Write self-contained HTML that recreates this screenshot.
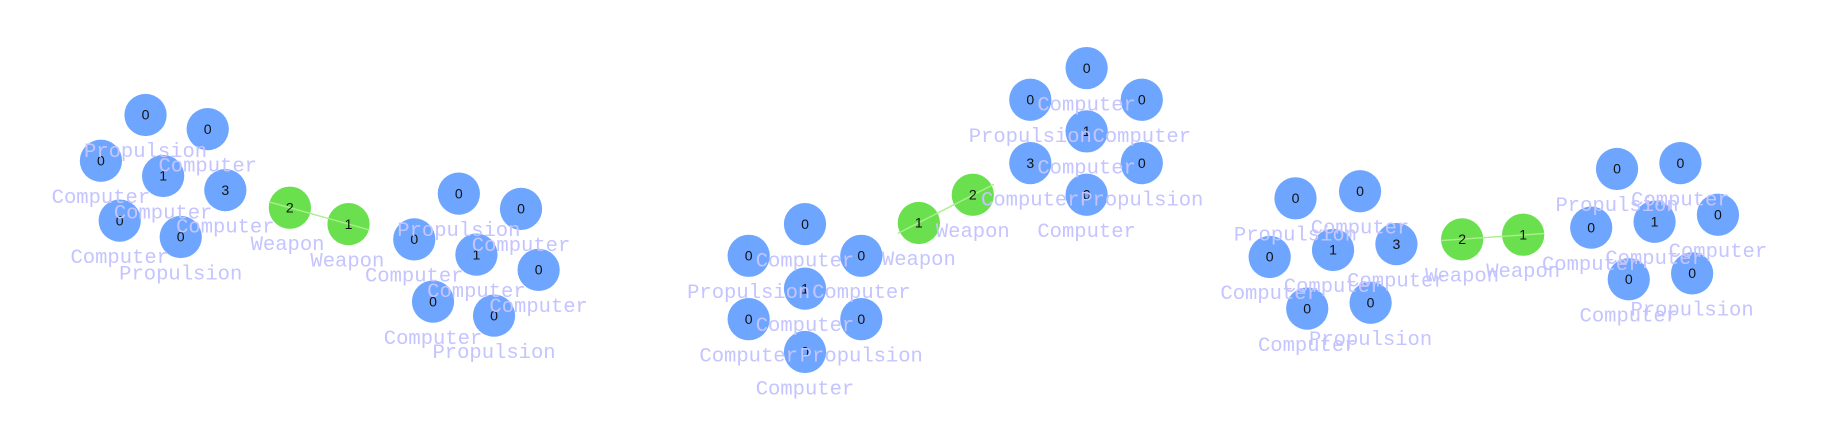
<!DOCTYPE html>
<html><head><meta charset="utf-8"><style>
html,body{margin:0;padding:0;background:#fff;width:1840px;height:433px;overflow:hidden}
svg{display:block}
.b{fill:#6ea6ff}
.g{fill:#6ae04e}
.n{font-family:"Liberation Sans",sans-serif;font-size:12px;fill:#111;text-anchor:middle}
.l{font-family:"Liberation Mono",monospace;font-size:17.5px;fill:#c4c4ff;text-anchor:middle}
</style></head><body>
<svg width="1840" height="433" viewBox="0 0 1568 369" xmlns="http://www.w3.org/2000/svg">
<g>
<circle class="b" cx="124" cy="98" r="18"/><circle class="b" cx="177" cy="110" r="18"/><circle class="b" cx="86" cy="137" r="18"/><circle class="b" cx="139" cy="150" r="18"/><circle class="b" cx="192" cy="162" r="18"/><circle class="b" cx="102" cy="188" r="18"/><circle class="b" cx="154" cy="202" r="18"/>
<circle class="g" cx="247" cy="177" r="18"/><circle class="g" cx="297" cy="191" r="18"/>
<circle class="b" cx="391" cy="165" r="18"/><circle class="b" cx="444" cy="178" r="18"/><circle class="b" cx="353" cy="204" r="18"/><circle class="b" cx="406" cy="217" r="18"/><circle class="b" cx="459" cy="230" r="18"/><circle class="b" cx="369" cy="257" r="18"/><circle class="b" cx="421" cy="269" r="18"/>
<circle class="b" cx="686" cy="191" r="18"/><circle class="b" cx="638" cy="218" r="18"/><circle class="b" cx="734" cy="218" r="18"/><circle class="b" cx="686" cy="246" r="18"/><circle class="b" cx="638" cy="272" r="18"/><circle class="b" cx="734" cy="272" r="18"/><circle class="b" cx="686" cy="300" r="18"/>
<circle class="g" cx="783" cy="190" r="18"/><circle class="g" cx="829" cy="166" r="18"/>
<circle class="b" cx="926" cy="58" r="18"/><circle class="b" cx="878" cy="85" r="18"/><circle class="b" cx="973" cy="85" r="18"/><circle class="b" cx="926" cy="112" r="18"/><circle class="b" cx="878" cy="139" r="18"/><circle class="b" cx="973" cy="139" r="18"/><circle class="b" cx="926" cy="166" r="18"/>
<circle class="b" cx="1104" cy="169" r="18"/><circle class="b" cx="1159" cy="163" r="18"/><circle class="b" cx="1082" cy="219" r="18"/><circle class="b" cx="1136" cy="213" r="18"/><circle class="b" cx="1190" cy="208" r="18"/><circle class="b" cx="1114" cy="263" r="18"/><circle class="b" cx="1168" cy="258" r="18"/>
<circle class="g" cx="1246" cy="204" r="18"/><circle class="g" cx="1298" cy="200" r="18"/>
<circle class="b" cx="1378" cy="144" r="18"/><circle class="b" cx="1432" cy="139" r="18"/><circle class="b" cx="1356" cy="194" r="18"/><circle class="b" cx="1410" cy="189" r="18"/><circle class="b" cx="1464" cy="183" r="18"/><circle class="b" cx="1388" cy="238" r="18"/><circle class="b" cx="1442" cy="233" r="18"/>
</g>
<g stroke="#a8f08a" stroke-width="1.2">
<line x1="229" y1="172" x2="315" y2="196"/>
<line x1="765" y1="199" x2="847" y2="157"/>
<line x1="1228" y1="205" x2="1316" y2="199"/>
</g>
<g class="n">
<text x="124" y="102">0</text><text x="177" y="114">0</text><text x="86" y="141">0</text><text x="139" y="154">1</text><text x="192" y="166">3</text><text x="102" y="192">0</text><text x="154" y="206">0</text>
<text x="247" y="181">2</text><text x="297" y="195">1</text>
<text x="391" y="169">0</text><text x="444" y="182">0</text><text x="353" y="208">0</text><text x="406" y="221">1</text><text x="459" y="234">0</text><text x="369" y="261">0</text><text x="421" y="273">0</text>
<text x="686" y="195">0</text><text x="638" y="222">0</text><text x="734" y="222">0</text><text x="686" y="250">1</text><text x="638" y="276">0</text><text x="734" y="276">0</text><text x="686" y="304">0</text>
<text x="783" y="194">1</text><text x="829" y="170">2</text>
<text x="926" y="62">0</text><text x="878" y="89">0</text><text x="973" y="89">0</text><text x="926" y="116">1</text><text x="878" y="143">3</text><text x="973" y="143">0</text><text x="926" y="170">0</text>
<text x="1104" y="173">0</text><text x="1159" y="167">0</text><text x="1082" y="223">0</text><text x="1136" y="217">1</text><text x="1190" y="212">3</text><text x="1114" y="267">0</text><text x="1168" y="262">0</text>
<text x="1246" y="208">2</text><text x="1298" y="204">1</text>
<text x="1378" y="148">0</text><text x="1432" y="143">0</text><text x="1356" y="198">0</text><text x="1410" y="193">1</text><text x="1464" y="187">0</text><text x="1388" y="242">0</text><text x="1442" y="237">0</text>
</g>
<g class="l">
<text x="124" y="134">Propulsion</text><text x="177" y="146">Computer</text><text x="86" y="173">Computer</text><text x="139" y="186">Computer</text><text x="192" y="198">Computer</text><text x="102" y="224">Computer</text><text x="154" y="238">Propulsion</text>
<text x="245" y="213">Weapon</text><text x="296" y="227">Weapon</text>
<text x="391" y="201">Propulsion</text><text x="444" y="214">Computer</text><text x="353" y="240">Computer</text><text x="406" y="253">Computer</text><text x="459" y="266">Computer</text><text x="369" y="293">Computer</text><text x="421" y="305">Propulsion</text>
<text x="686" y="227">Computer</text><text x="638" y="254">Propulsion</text><text x="734" y="254">Computer</text><text x="686" y="282">Computer</text><text x="638" y="308">Computer</text><text x="734" y="308">Propulsion</text><text x="686" y="336">Computer</text>
<text x="783" y="226">Weapon</text><text x="829" y="202">Weapon</text>
<text x="926" y="94">Computer</text><text x="878" y="121">Propulsion</text><text x="973" y="121">Computer</text><text x="926" y="148">Computer</text><text x="878" y="175">Computer</text><text x="973" y="175">Propulsion</text><text x="926" y="202">Computer</text>
<text x="1104" y="205">Propulsion</text><text x="1159" y="199">Computer</text><text x="1082" y="255">Computer</text><text x="1136" y="249">Computer</text><text x="1190" y="244">Computer</text><text x="1114" y="299">Computer</text><text x="1168" y="294">Propulsion</text>
<text x="1246" y="240">Weapon</text><text x="1298" y="236">Weapon</text>
<text x="1378" y="180">Propulsion</text><text x="1432" y="175">Computer</text><text x="1356" y="230">Computer</text><text x="1410" y="225">Computer</text><text x="1464" y="219">Computer</text><text x="1388" y="274">Computer</text><text x="1442" y="269">Propulsion</text>
</g>
</svg>
</body></html>
